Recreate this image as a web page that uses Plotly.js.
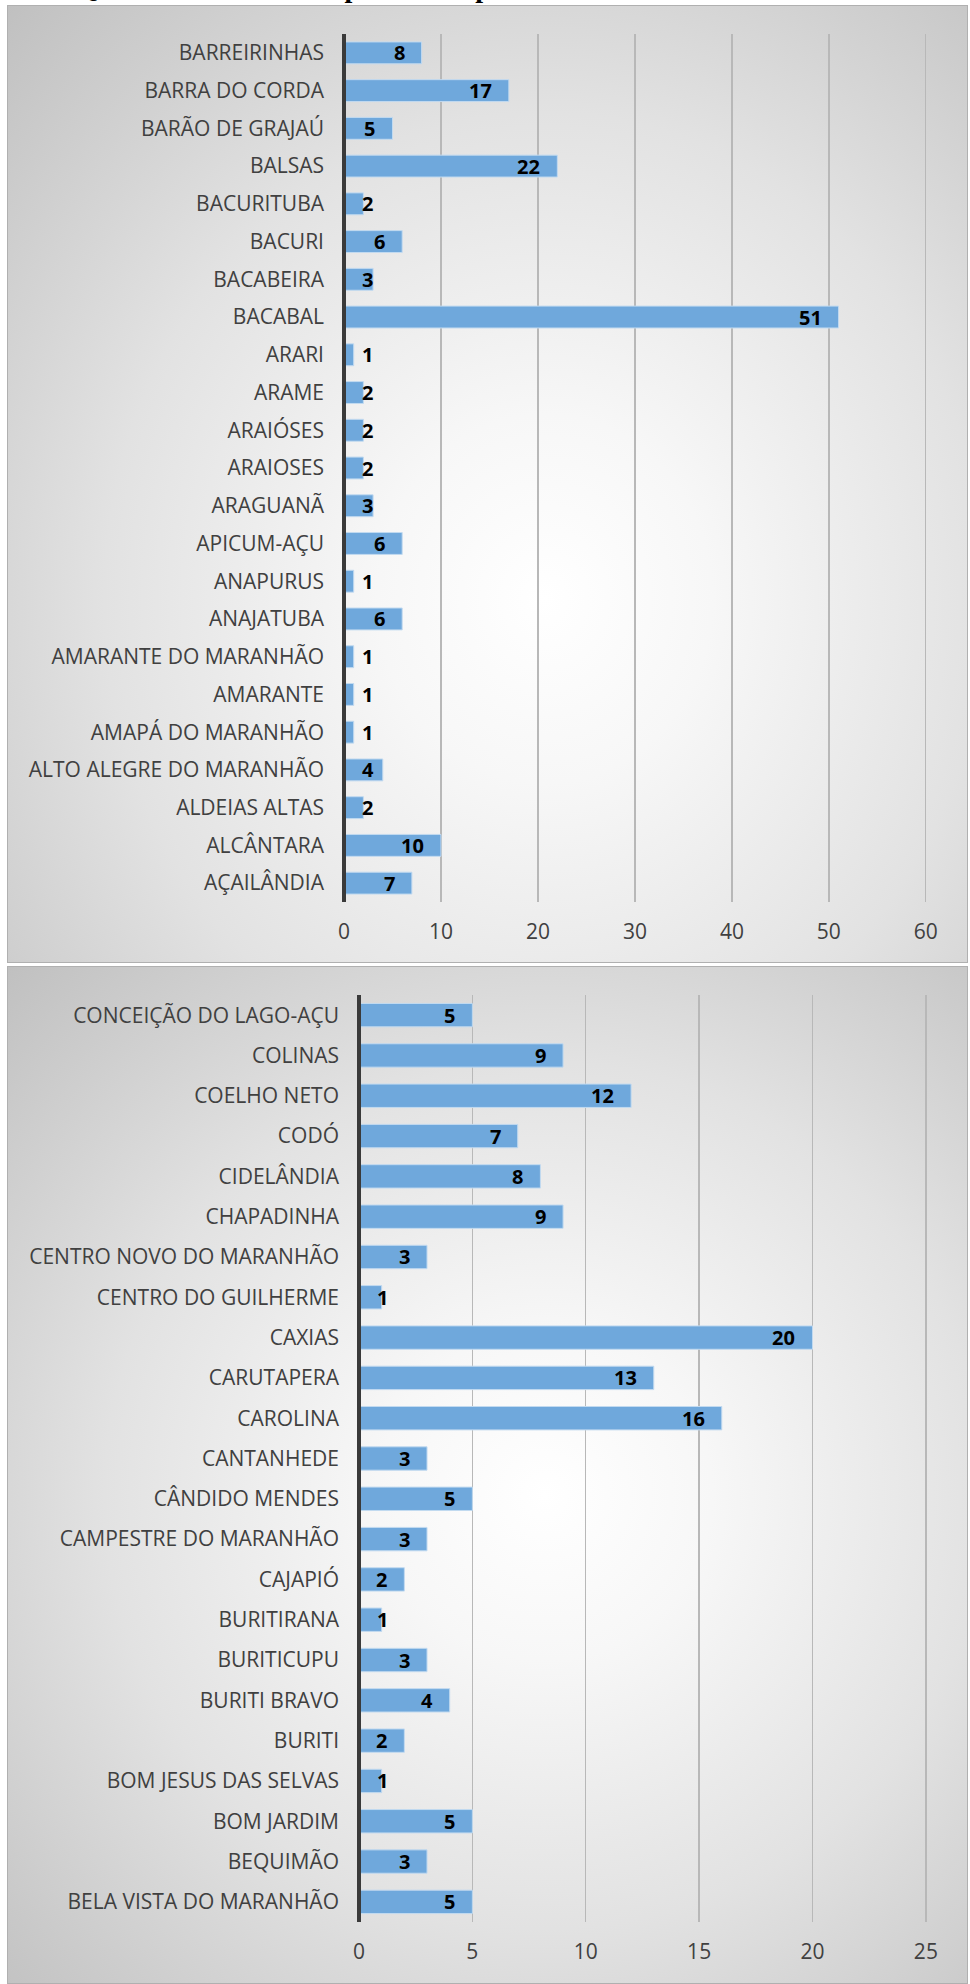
<!DOCTYPE html>
<html>
<head>
<meta charset="utf-8">
<script src="https://cdn.plot.ly/plotly-3.0.1.min.js"></script>
<style>
html,body{margin:0;padding:0;background:#ffffff;}
#page{position:relative;width:970px;height:1984px;overflow:hidden;background:#ffffff;}
#ttl{position:absolute;left:0;top:0;overflow:hidden;}
.panel{position:absolute;left:7px;width:961px;box-sizing:border-box;border:1px solid #b0b0b0;}
#p1{top:5px;height:958px;background:radial-gradient(ellipse farthest-corner at 56% 62%, #ffffff 0%, #f7f7f7 22%, #e2e2e2 58%, #c0c0c0 100%);}
#p2{top:966px;height:1018px;background:radial-gradient(ellipse farthest-corner at 56% 52%, #ffffff 0%, #f7f7f7 22%, #e2e2e2 58%, #c0c0c0 100%);}
</style>
</head>
<body>
<div id="page">
  <svg id="ttl" width="970" height="6"><text x="76" y="-3" font-family="Liberation Serif" font-weight="bold" font-size="28" fill="#000000">Quantidade de alunos por município</text></svg>
  <div id="p1" class="panel"></div>
  <div id="p2" class="panel"></div>
</div>
<script>
// Panel 1 (listed bottom to top)
const cats1 = ["AÇAILÂNDIA","ALCÂNTARA","ALDEIAS ALTAS","ALTO ALEGRE DO MARANHÃO","AMAPÁ DO MARANHÃO","AMARANTE","AMARANTE DO MARANHÃO","ANAJATUBA","ANAPURUS","APICUM-AÇU","ARAGUANÃ","ARAIOSES","ARAIÓSES","ARAME","ARARI","BACABAL","BACABEIRA","BACURI","BACURITUBA","BALSAS","BARÃO DE GRAJAÚ","BARRA DO CORDA","BARREIRINHAS"];
const vals1 = [7,10,2,4,1,1,1,6,1,6,3,2,2,2,1,51,3,6,2,22,5,17,8];
const ticks1 = [0,10,20,30,40,50,60];

// Panel 2 (listed bottom to top)
const cats2 = ["BELA VISTA DO MARANHÃO","BEQUIMÃO","BOM JARDIM","BOM JESUS DAS SELVAS","BURITI","BURITI BRAVO","BURITICUPU","BURITIRANA","CAJAPIÓ","CAMPESTRE DO MARANHÃO","CÂNDIDO MENDES","CANTANHEDE","CAROLINA","CARUTAPERA","CAXIAS","CENTRO DO GUILHERME","CENTRO NOVO DO MARANHÃO","CHAPADINHA","CIDELÂNDIA","CODÓ","COELHO NETO","COLINAS","CONCEIÇÃO DO LAGO-AÇU"];
const vals2 = [5,3,5,1,2,4,3,1,2,3,5,3,16,13,20,1,3,9,8,7,12,9,5];
const ticks2 = [0,5,10,15,20,25];

const FONT = "Open Sans";
const TXT = "#404040";

function makeLabels(cats, vals, ppu){
  return cats.map(function(c,i){
    const v = vals[i];
    const t = String(v);
    const w = t.length*11.4;
    const clamp = (v*ppu - 16 - w) < 17;
    return {x: clamp ? 0 : v, y: c, xref:'x', yref:'y', text:'<b>'+t+'</b>', showarrow:false,
      xanchor: clamp ? 'left' : 'right', xshift: clamp ? 16 : -15, yanchor:'middle',
      font:{family:FONT, size:20, color:'#000000'}};
  });
}

function draw(id, cats, vals, ticks, l, plotW, plotH, W, H){
  const xmax = ticks[ticks.length-1];
  const ppu = plotW/xmax;
  const trace = {type:'bar', orientation:'h', y:cats, x:vals,
    marker:{color:'#6fa8dc', line:{color:'#c2daf0', width:1}},
    hoverinfo:'none'};
  const layout = {
    width:W, height:H,
    margin:{l:l, r:W-l-plotW, t:28, b:H-28-plotH, pad:0},
    paper_bgcolor:'rgba(0,0,0,0)', plot_bgcolor:'rgba(0,0,0,0)',
    showlegend:false, bargap:0.42,
    xaxis:{range:[0,xmax*1.002], tickvals:ticks, ticktext:ticks.map(String), showgrid:true, gridcolor:'#b8b8b8', gridwidth:1.3,
      zeroline:false, showline:false, ticks:'', ticklabelstandoff:15,
      tickfont:{family:FONT, size:21, color:TXT}, fixedrange:true},
    yaxis:{type:'category', categoryorder:'array', categoryarray:cats, showgrid:false, zeroline:false, showline:false,
      ticks:'', ticklabelstandoff:19, tickfont:{family:FONT, size:21, color:TXT}, fixedrange:true},
    shapes:[{type:'line', xref:'paper', yref:'paper', x0:0, x1:0, y0:0, y1:1, line:{color:'#3a3a3a', width:4}, layer:'above'}],
    annotations: makeLabels(cats, vals, ppu)
  };
  Plotly.newPlot(id, [trace], layout, {displayModeBar:false, staticPlot:true});
}

draw('p1', cats1, vals1, ticks1, 336, 583, 868, 959, 956);
draw('p2', cats2, vals2, ticks2, 351, 568, 927, 959, 1016);
</script>
</body>
</html>
